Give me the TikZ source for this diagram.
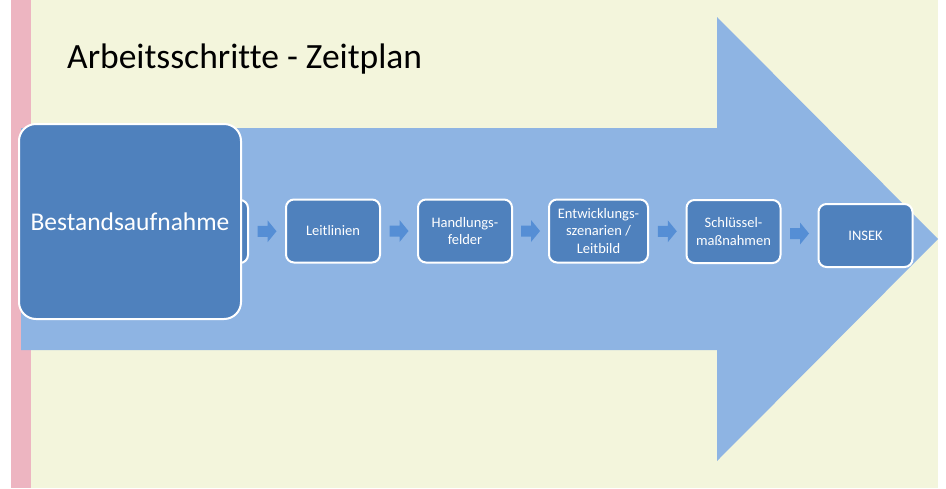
\documentclass[tikz,border=0pt]{standalone}
\usepackage{fontspec}
\setmainfont[Ligatures=NoCommon]{Carlito}
\usetikzlibrary{calc}
\definecolor{bgyellow}{HTML}{F3F5DC}
\definecolor{pinkstrip}{HTML}{EDB5C1}
\definecolor{bigarrow}{HTML}{8EB4E3}
\definecolor{boxfill}{HTML}{4F81BD}
\definecolor{smallarr}{HTML}{558ED5}
\tikzset{
  stepbox/.style={draw=white, line width=2pt, fill=boxfill, rounded corners=8pt,
    minimum width=94pt, minimum height=63pt, inner sep=2pt, align=center,
    text=white, font=\fontsize{14.5}{17.5}\selectfont},
  bigbox/.style={draw=white, line width=2pt, fill=boxfill, rounded corners=17pt,
    minimum width=222pt, minimum height=195pt, text=white,
    font=\fontsize{25.5}{30}\selectfont},
  blockarr/.pic={\fill[smallarr] (-9.5,-5.5) -- (0.5,-5.5) -- (0.5,-11) -- (9.5,0)
    -- (0.5,11) -- (0.5,5.5) -- (-9.5,5.5) -- cycle;}
}
\begin{document}
\begin{tikzpicture}[x=1pt,y=-1pt]
\useasboundingbox (0,0) rectangle (946,488);
\fill[white] (0,0) rectangle (946,488);
\fill[pinkstrip] (11,0) rectangle (31,488);
\fill[bgyellow] (31,0) rectangle (938,488);
% big arrow
\fill[bigarrow] (21,128) -- (717,128) -- (717,17) -- (938,239) -- (717,461)
  -- (717,350) -- (21,350) -- cycle;
% title
\node[anchor=base west, inner sep=0pt, font=\fontsize{35.5}{42}\selectfont] (title)
  at (67,68) {Arbeitsschritte - Zeitplan};
% boxes
\node[stepbox] (b0) at (201,231.5) {};
\node[stepbox] (b1) at (333,231) {Leitlinien};
\node[stepbox] (b2) at (465,231) {Handlungs-\\felder};
\node[stepbox, minimum width=99pt] (b3) at (598.5,231) {Entwicklungs-\\szenarien /\\Leitbild};
\node[stepbox] (b4) at (733.5,231.5) {Schlüssel-\\maßnahmen};
\node[stepbox] (b5) at (865.5,235.5) {INSEK};
\node[bigbox] (big) at (130,221.5) {Bestandsaufnahme};
% connectors
\path ($(b0.east)!0.5!(b1.west)$) coordinate (m1)
      ($(b1.east)!0.5!(b2.west)$) coordinate (m2)
      ($(b2.east)!0.5!(b3.west)$) coordinate (m3)
      ($(b3.east)!0.5!(b4.west)$) coordinate (m4)
      ($(b4.east)!0.5!(b5.west)$) coordinate (m5);
\pic at (m1) {blockarr};
\pic at (m2) {blockarr};
\pic at (m3) {blockarr};
\pic at (m4) {blockarr};
\pic at (m5) {blockarr};
\end{tikzpicture}
\end{document}
